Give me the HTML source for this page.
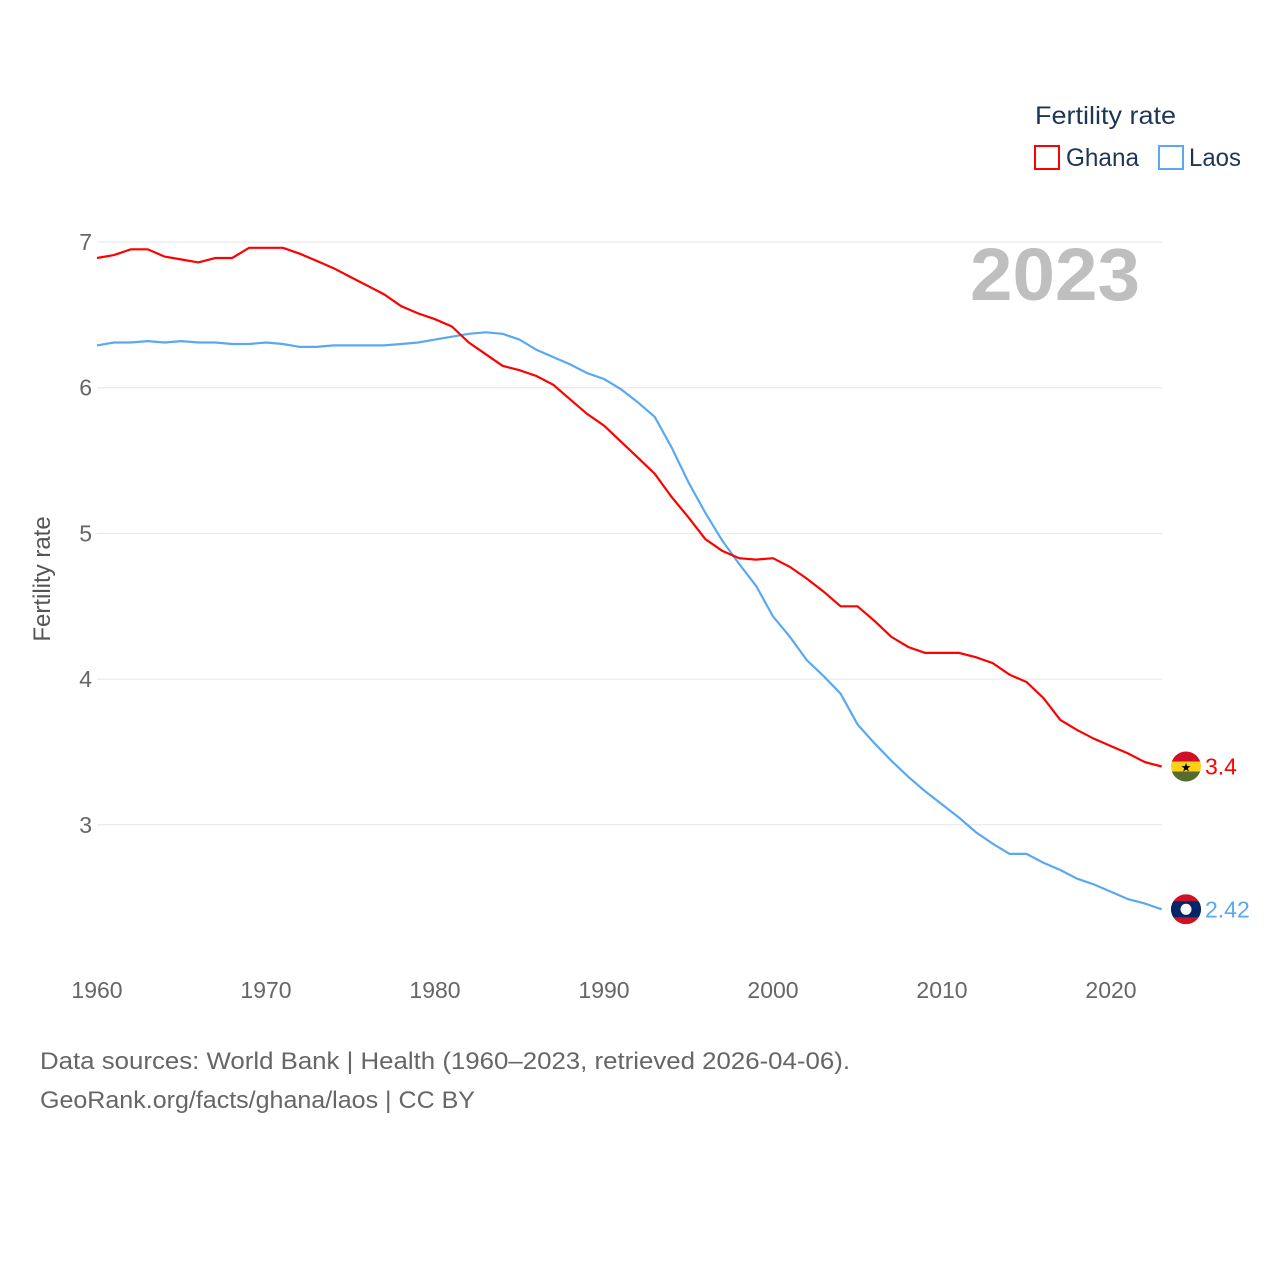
<!DOCTYPE html>
<html><head><meta charset="utf-8">
<style>
body{margin:0;background:#fff;font-family:"Liberation Sans",sans-serif;}
svg text{font-family:"Liberation Sans",sans-serif;}
</style></head>
<body>
<svg id="c" width="1280" height="1280" viewBox="0 0 1280 1280">
<text x="1035" y="124" font-size="25" fill="#1d3557" textLength="141" lengthAdjust="spacingAndGlyphs">Fertility rate</text>
<rect x="1035" y="146" width="24" height="23" fill="none" stroke="#ff0000" stroke-width="2"/>
<text x="1066" y="166" font-size="25" fill="#1d3557" textLength="73" lengthAdjust="spacingAndGlyphs">Ghana</text>
<rect x="1159" y="146" width="24" height="23" fill="none" stroke="#5aa9f0" stroke-width="2"/>
<text x="1189" y="166" font-size="25" fill="#1d3557" textLength="52" lengthAdjust="spacingAndGlyphs">Laos</text>
<text x="970" y="300" font-size="74" font-weight="bold" fill="#bfbfbf" textLength="170" lengthAdjust="spacingAndGlyphs">2023</text>
<text transform="translate(50,579) rotate(-90)" font-size="24" fill="#555" text-anchor="middle">Fertility rate</text>
<g id="grid"></g>
<g id="lines"></g>
<text x="40" y="1069" font-size="24" fill="#666" textLength="810" lengthAdjust="spacingAndGlyphs">Data sources: World Bank | Health (1960–2023, retrieved 2026-04-06).</text>
<text x="40" y="1108" font-size="24" fill="#666" textLength="435" lengthAdjust="spacingAndGlyphs">GeoRank.org/facts/ghana/laos | CC BY</text>
</svg>
<script>
const years=[];for(let y=1960;y<=2023;y++)years.push(y);
const ghana=[6.89,6.91,6.95,6.95,6.90,6.88,6.86,6.89,6.89,6.96,6.96,6.96,6.92,6.87,6.82,6.76,6.70,6.64,6.56,6.51,6.47,6.42,6.31,6.23,6.15,6.12,6.08,6.02,5.92,5.82,5.74,5.63,5.52,5.41,5.25,5.11,4.96,4.88,4.83,4.82,4.83,4.77,4.69,4.60,4.50,4.50,4.40,4.29,4.22,4.18,4.18,4.18,4.15,4.11,4.03,3.98,3.87,3.72,3.65,3.59,3.54,3.49,3.43,3.40];
const laos=[6.29,6.31,6.31,6.32,6.31,6.32,6.31,6.31,6.30,6.30,6.31,6.30,6.28,6.28,6.29,6.29,6.29,6.29,6.30,6.31,6.33,6.35,6.37,6.38,6.37,6.33,6.26,6.21,6.16,6.10,6.06,5.99,5.90,5.80,5.59,5.35,5.14,4.95,4.79,4.64,4.43,4.29,4.13,4.02,3.90,3.69,3.56,3.44,3.33,3.23,3.14,3.05,2.95,2.87,2.80,2.80,2.74,2.69,2.63,2.59,2.54,2.49,2.46,2.42];
const yTicks=[3,4,5,6,7];
const xTicks=[1960,1970,1980,1990,2000,2010,2020];
const ns="http://www.w3.org/2000/svg";
const X=y=>97+(y-1960)*16.9;
const Y=v=>242+(7-v)*145.7;
function mk(t,a,p){const e=document.createElementNS(ns,t);for(const k in a)e.setAttribute(k,a[k]);p.appendChild(e);return e;}
const grid=document.getElementById('grid'),lines=document.getElementById('lines');
yTicks.forEach(v=>{
 const l=mk('line',{x1:97,x2:1162,y1:Y(v),y2:Y(v),stroke:'#e6e6e6','stroke-width':1},grid);
 
 
 const t=mk('text',{x:92,y:Y(v)+8,'font-size':23,fill:'#666','text-anchor':'end'},grid);t.textContent=v;
 
 
});
xTicks.forEach(v=>{
 const t=mk('text',{x:X(v),y:998,'font-size':23,fill:'#666','text-anchor':'middle'},grid);t.textContent=v;
 
 
});
function series(d,col,name){
 const p=mk('path',{d:d.map((v,i)=>(i?'L':'M')+X(years[i]).toFixed(1)+','+Y(v).toFixed(1)).join(''),fill:'none',stroke:col,'stroke-width':2.2},lines);
 
 
 const last=d[d.length-1],cy=Y(last),cx=1186;
 const g=mk('g',{},lines);
 
 
 const cp=mk('clipPath',{id:'cl'+name},g);mk('circle',{cx:cx,cy:cy,r:15},cp);
 const f=mk('g',{'clip-path':'url(#cl'+name+')'},g);
 if(name==='ghana'){
  mk('rect',{x:cx-15,y:cy-15,width:30,height:10,fill:'#ce1126'},f);
  mk('rect',{x:cx-15,y:cy-5,width:30,height:10,fill:'#fcd116'},f);
  mk('rect',{x:cx-15,y:cy+5,width:30,height:10,fill:'#556b2f'},f);
  const s=mk('text',{x:cx,y:cy+5,'font-size':12,'text-anchor':'middle',fill:'#000'},f);s.textContent='★';
 }else{
  mk('rect',{x:cx-15,y:cy-15,width:30,height:30,fill:'#ce1126'},f);
  mk('rect',{x:cx-15,y:cy-8,width:30,height:16,fill:'#002868'},f);
  mk('circle',{cx:cx,cy:cy,r:5.5,fill:'#fff'},f);
 }
 const t=mk('text',{x:1205,y:cy+8,'font-size':23,fill:col},lines);t.textContent=last;
 
 
}
series(laos,'#5aa9f0','laos');
series(ghana,'#ff0000','ghana');
</script>
</body></html>
